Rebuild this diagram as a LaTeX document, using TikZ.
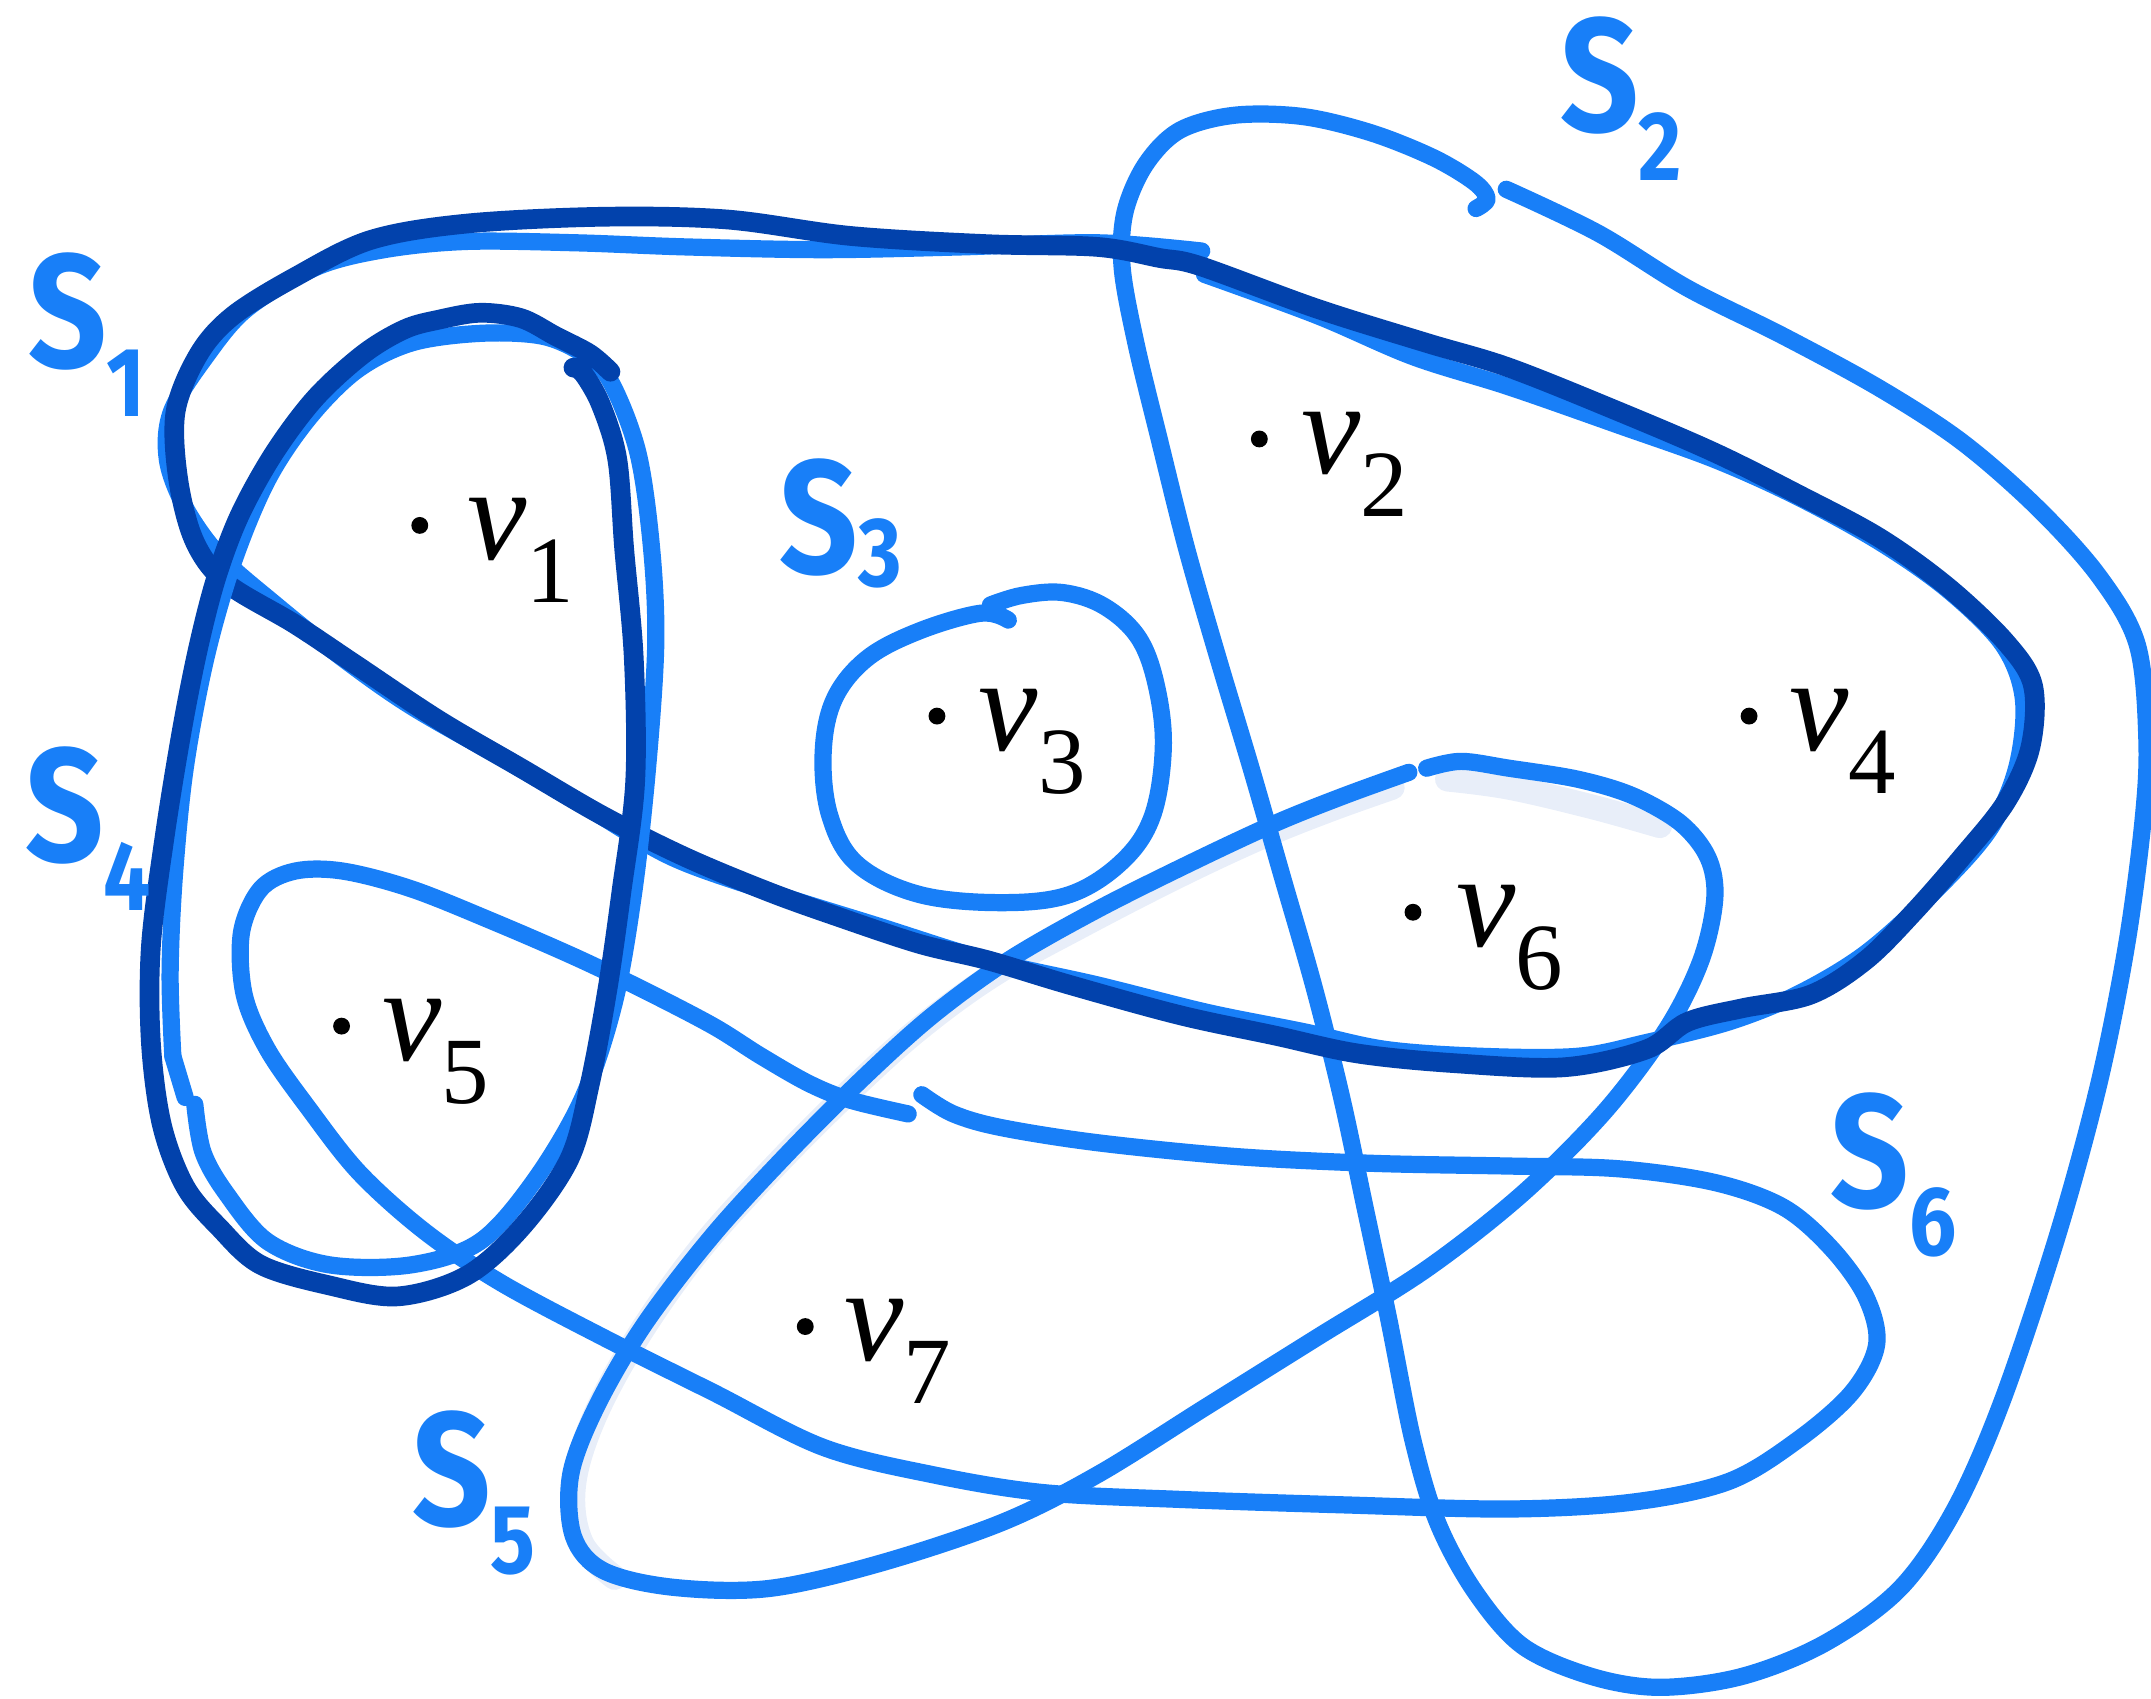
\documentclass[tikz,border=0pt]{standalone}
\usepackage{fontspec}
\setmainfont{Liberation Serif}
\newfontfamily\handfont{Fira Sans}
\definecolor{lb}{RGB}{24,127,248}
\definecolor{db}{RGB}{2,66,172}
\definecolor{sh}{RGB}{232,238,249}
\tikzset{
  lightline/.style={draw=lb,line width=4.9pt,line cap=round,line join=round},
  darkline/.style={draw=db,line width=5.6pt,line cap=round,line join=round},
  shadowline/.style={draw=sh,line width=7pt,line cap=round,line join=round},
  vdot/.style={circle,fill=black,inner sep=0pt,minimum size=4.8pt},
  vlab/.style={anchor=base west,inner sep=0pt,font=\fontsize{38}{40}\selectfont\itshape},
  slab/.style={text=lb,inner sep=0pt,xscale=0.85,anchor=base west,font=\handfont\bfseries\fontsize{46}{50}\selectfont}
}
\newcommand{\vsub}[1]{\raisebox{-0.32em}{\upshape\fontsize{27}{28}\selectfont #1}}
\newcommand{\ssub}[2][-0.3em]{\raisebox{#1}{\fontsize{28}{28}\selectfont #2}}
\begin{document}
\begin{tikzpicture}[x=0.013718cm,y=-0.013718cm]
\useasboundingbox (0,0) rectangle (1568,1238);

% shadow of S5 loop
\draw[shadowline] plot[smooth,tension=0.6] coordinates {(1015,574) (970,590) (920,610) (860,638) (790,674) (725,710) (670,750) (620,795) (565,850) (510,911) (464,976) (432,1036) (418,1085) (424,1125) (448,1150)};
\draw[shadowline] plot[smooth,tension=0.6] coordinates {(1055,568) (1100,574) (1160,588) (1210,602)};

% ---- S2 loop
\draw[lightline] plot[smooth,tension=0.55] coordinates {(1076,152) (1084,145) (1075,133) (1045,115) (1000,97) (950,85) (900,84) (860,95) (835,120) (820,155) (818,195) (828,250) (845,320) (865,400) (888,480) (912,560) (935,640) (958,720) (978,800) (995,880) (1012,960) (1030,1050) (1048,1110) (1075,1160) (1110,1200) (1160,1222) (1210,1230) (1270,1222) (1330,1198) (1385,1158) (1425,1100) (1460,1020) (1500,900) (1530,790) (1550,690) (1562,600) (1565,540) (1558,470) (1530,420) (1485,370) (1430,322) (1370,283) (1300,245) (1230,210) (1165,170) (1098,138)};

% ---- v5/v7 loop
\draw[lightline] plot[smooth,tension=0.55] coordinates {(662,812) (620,802) (590,790) (555,770) (520,748) (470,722) (420,698) (360,672) (300,648) (250,635) (215,635) (190,648) (176,680) (178,725) (195,765) (225,808) (262,855) (310,898) (365,935) (440,975) (520,1015) (600,1055) (680,1075) (760,1088) (860,1093) (980,1097) (1100,1100) (1190,1095) (1260,1080) (1310,1050) (1350,1015) (1368,980) (1360,945) (1335,910) (1300,880) (1250,862) (1180,852) (1100,850) (1000,848) (900,843) (800,833) (730,822) (695,812) (672,798)};

% ---- v3 loop
\draw[lightline] plot[smooth,tension=0.6] coordinates {(722,441) (745,434) (775,432) (805,442) (830,465) (843,500) (848,545) (840,595) (818,628) (780,652) (730,658) (670,652) (625,630) (605,595) (600,550) (608,510) (632,480) (670,460) (715,447) (735,452)};

% ---- S5 loop
\draw[lightline] plot[smooth,tension=0.55] coordinates {(1027,563) (980,580) (930,600) (870,628) (800,663) (735,700) (680,740) (630,785) (575,840) (520,900) (470,965) (435,1025) (416,1075) (418,1120) (440,1145) (490,1157) (560,1158) (640,1140) (730,1110) (800,1075) (880,1025) (960,975) (1040,925) (1110,870) (1170,810) (1215,750) (1240,700) (1250,655) (1245,625) (1225,600) (1190,580) (1150,568) (1100,560) (1065,555) (1040,560)};

% ---- big loop, light copy
\draw[lightline] plot[smooth,tension=0.55] coordinates {(876,183) (800,177) (700,180) (600,182) (500,180) (420,177) (340,176) (280,182) (230,195) (180,225) (150,260) (125,300) (122,335) (135,370) (160,405) (200,440) (250,480) (300,515) (370,555) (430,590) (490,625) (560,650) (640,675) (720,700) (800,718) (880,738) (950,752) (1010,765) (1080,770) (1150,770) (1200,760) (1260,745) (1310,725) (1360,695) (1410,650) (1450,605) (1470,560) (1475,510) (1460,470) (1420,430) (1370,395) (1310,362) (1250,335) (1180,310) (1100,282) (1030,260) (960,230) (878,200)};

% ---- big loop, dark
\draw[darkline] plot[smooth cycle,tension=0.55] coordinates {(440,158) (530,160) (620,172) (720,178) (800,180) (845,188) (875,194) (960,225) (1040,250) (1100,268) (1180,300) (1250,330) (1310,360) (1370,392) (1420,428) (1462,468) (1482,500) (1480,545) (1462,585) (1430,625) (1395,665) (1360,700) (1320,725) (1270,735) (1230,745) (1200,765) (1140,778) (1060,775) (990,768) (930,755) (860,740) (780,718) (720,700) (670,688) (610,668) (560,650) (500,625) (440,595) (380,560) (320,525) (260,485) (215,455) (165,425) (142,395) (130,350) (128,300) (145,258) (170,230) (215,202) (270,175) (340,163)};

% ---- v1/v5 loop, light copy
\draw[lightline] plot[smooth,tension=0.55] coordinates {(142,805) (148,840) (165,870) (195,905) (240,922) (300,922) (350,905) (390,860) (425,800) (448,730) (462,650) (472,560) (478,470) (475,400) (465,330) (445,278) (425,258) (395,245) (350,243) (300,250) (260,270) (225,305) (195,350) (170,410) (150,480) (135,560) (127,640) (124,710) (126,770)};
\draw[lightline] (126,770) -- (135,800);

% ---- v1/v5 loop, dark
\draw[darkline] plot[smooth,tension=0.55] coordinates {(445,271) (430,258) (405,245) (380,232) (350,228) (320,233) (295,240) (265,258) (230,290) (200,330) (175,375) (158,420) (145,470) (133,530) (120,610) (110,690) (110,760) (118,820) (135,865) (160,895) (190,922) (240,937) (290,945) (340,930) (380,895) (415,845) (430,790) (443,720) (453,650) (463,570) (462,480) (455,400) (450,335) (438,295) (425,272) (418,268)};

% ---- vertices
\node[vdot] (d1) at (306,383) {};
\node[vlab] (l1) at (340,408) {v\vsub{1}};
\node[vdot] (d2) at (918,320) {};
\node[vlab] (l2) at (948,345) {v\vsub{2}};
\node[vdot] (d3) at (683,522) {};
\node[vlab] (l3) at (713,547) {v\vsub{3}};
\node[vdot] (d4) at (1275,522) {};
\node[vlab] (l4) at (1304,547) {v\vsub{4}};
\node[vdot] (d5) at (249,748) {};
\node[vlab] (l5) at (278,773) {v\vsub{5}};
\node[vdot] (d6) at (1030,665) {};
\node[vlab] (l6) at (1061,690) {v\vsub{6}};
\node[vdot] (d7) at (587,967) {};
\node[vlab] (l7) at (615,992) {v\vsub{7}};

% ---- set labels
\node[slab] (s1) at (20,268) {S\ssub{1}};
\node[slab] (s2) at (1137,96) {S\ssub{2}};
\node[slab] (s3) at (568,418) {S\ssub[-0.08em]{3}};
\node[slab] (s4) at (18,628) {S\ssub{4}};
\node[slab] (s5) at (300,1112) {S\ssub{5}};
\node[slab] (s6) at (1334,880) {S\ssub{6}};
\end{tikzpicture}
\end{document}
